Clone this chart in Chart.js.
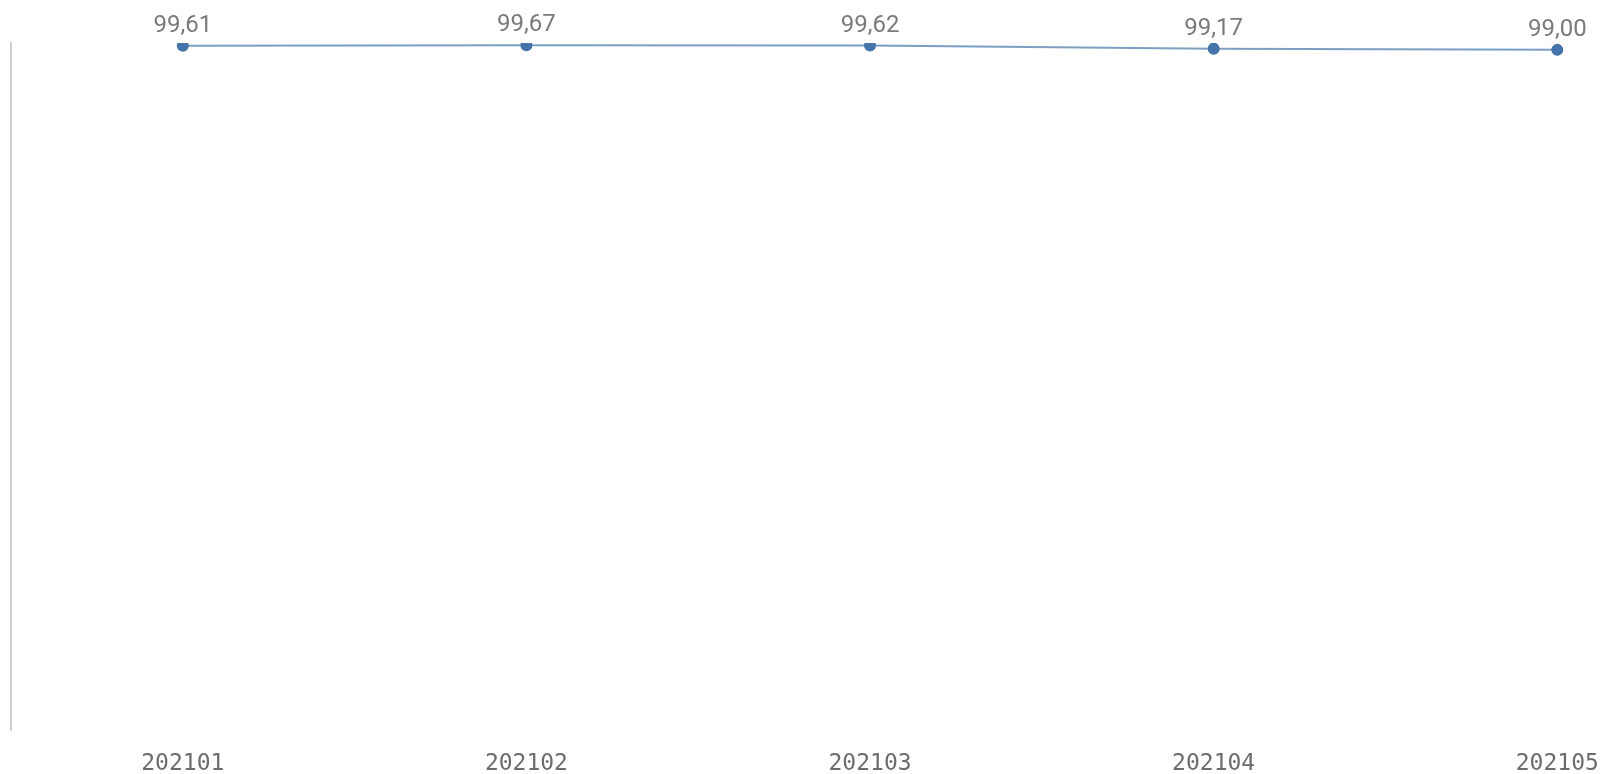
<!DOCTYPE html>
<html>
<head>
<meta charset="utf-8">
<script src="https://cdn.jsdelivr.net/npm/chart.js@4"></script>
<style>
    body { margin: 0; background: #fff; }
    #wrap { width: 1611px; height: 774px; position: relative; }
</style>
</head>
<body>
<div id="wrap"><canvas id="lineChart"></canvas></div>
<script>
// chart data
const categories = ['202101', '202102', '202103', '202104', '202105'];
const values = [99.61, 99.67, 99.62, 99.17, 99.00];
const yRange = [0, 100];

// value labels above each point (comma decimal)
const pointLabels = {
    id: 'pointLabels',
    afterDatasetsDraw(chart) {
        const ctx = chart.ctx;
        const meta = chart.getDatasetMeta(0);
        ctx.save();
        ctx.font = '24px Roboto, "Liberation Sans", sans-serif';
        ctx.fillStyle = '#7a7a7a';
        ctx.textAlign = 'center';
        ctx.textBaseline = 'alphabetic';
        meta.data.forEach((pt, i) => {
            ctx.fillText(values[i].toFixed(2).replace('.', ','), pt.x, pt.y - 14);
        });
        ctx.restore();
    }
};

const ctx = document.getElementById('lineChart').getContext('2d');
window.lineChart = new Chart(ctx, {
    type: 'line',
    data: {
        datasets: [{
            data: categories.map((c, i) => ({ x: i, y: values[i] })),
            borderColor: 'rgba(68,119,170,0.7)',
            borderWidth: 2,
            pointBackgroundColor: '#4474a9',
            pointBorderColor: '#4474a9',
            pointRadius: 5,
            tension: 0
        }]
    },
    options: {
        responsive: true,
        maintainAspectRatio: false,
        animation: false,
        layout: { padding: { left: 11, top: 43, right: 0, bottom: 0 } },
        plugins: { legend: { display: false }, tooltip: { enabled: false } },
        scales: {
            x: {
                type: 'linear',
                min: -0.5,
                max: 4.115,
                grid: { display: false },
                border: { display: false },
                afterBuildTicks: (scale) => { scale.ticks = categories.map((c, i) => ({ value: i })); },
                afterFit: (scale) => { scale.height = 44; },
                ticks: {
                    autoSkip: false,
                    maxRotation: 0,
                    padding: 12,
                    color: '#6c6c6c',
                    font: { family: '"DejaVu Sans Mono", monospace', size: 23 },
                    callback: (v) => categories[v] ?? ''
                }
            },
            y: {
                min: yRange[0],
                max: yRange[1],
                grid: { display: false },
                ticks: { display: false },
                border: { display: true, color: '#cfcfcf', width: 2 },
                afterFit: (scale) => { scale.width = 0; }
            }
        }
    },
    plugins: [pointLabels]
});
</script>
</body>
</html>
